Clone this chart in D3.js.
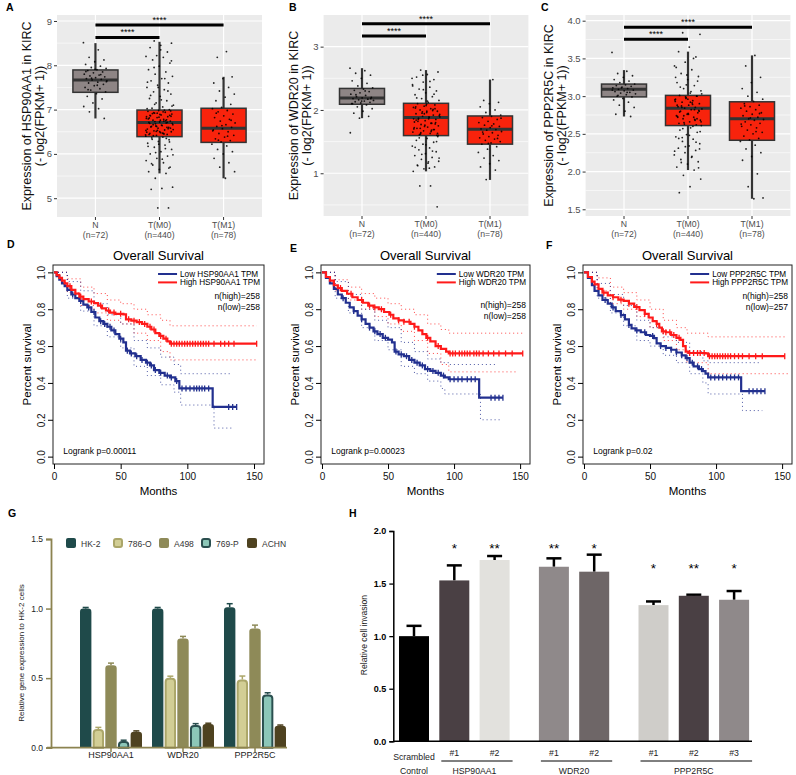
<!DOCTYPE html>
<html><head><meta charset="utf-8">
<script src="https://cdn.jsdelivr.net/npm/d3@7"></script>
<style>body{margin:0;background:#fff}svg{display:block;font-family:"Liberation Sans",Arial,sans-serif}</style>
</head><body><svg id="c" width="796" height="775"></svg>
<script>
// ================= DATA =================
// Panels A-C (box plots)
const boxGroups = ["N", "T(M0)", "T(M1)"];
const boxCounts = ["(n=72)", "(n=440)", "(n=78)"];
// [lower whisker, Q1, median, Q3, upper whisker]
const hspStats = [[6.80,7.39,7.67,7.895,8.50],[5.56,6.39,6.71,6.99,8.53],[5.45,6.26,6.58,7.03,7.74]];
const wdrStats = [[1.87,2.09,2.19,2.34,2.66],[1.03,1.595,1.88,2.105,2.63],[0.895,1.46,1.695,1.905,2.48]];
const pppStats = [[2.73,2.99,3.09,3.16,3.345],[2.02,2.61,2.84,3.01,3.59],[1.64,2.415,2.70,2.925,3.54]];
const hspPtsN = [8.51,8.35,8.18,8.12,8.08,8.02,7.98,7.95,7.93,7.9,7.88,7.85,7.83,7.8,7.78,7.76,7.74,7.72,7.7,7.68,7.67,7.65,7.62,7.6,7.57,7.54,7.5,7.47,7.44,7.4,7.36,7.3,7.24,7.15,7.07,7.02,6.95,6.8,7.91,7.86,7.79,7.71,7.63,7.55,7.45];
const hspPtsM0 = [8.55,8.5,8.45,8.4,8.3,8.22,8.2,8.18,8.12,8.05,7.98,7.9,7.85,7.8,7.75,7.7,7.65,7.6,7.55,7.5,7.45,7.4,7.35,7.3,7.25,7.2,7.15,7.1,7.06,7.03,
  7.0,6.98,6.96,6.94,6.92,6.9,6.88,6.86,6.84,6.82,6.8,6.78,6.76,6.74,6.72,6.71,6.7,6.68,6.66,6.64,6.62,6.6,6.58,6.56,6.54,6.52,6.5,6.48,6.46,6.44,6.42,6.4,
  6.95,6.91,6.87,6.83,6.79,6.75,6.73,6.69,6.65,6.61,6.57,6.53,6.49,6.45,6.41,6.97,6.89,6.81,6.77,6.63,6.55,6.47,
  6.36,6.32,6.28,6.24,6.2,6.15,6.1,6.05,6.0,5.95,5.9,5.85,5.8,5.75,5.7,5.65,5.6,5.56,5.45,5.25,5.22,5.2,4.78,4.78,
  7.02,6.99,6.93,6.85,6.76,6.69,6.6,6.51,6.43,6.38,6.33,6.27,6.22,6.17,6.12,7.12,7.08,7.22,7.32,7.42,6.92,6.84,6.74,6.66,6.58,6.5,6.44,6.35,6.03,5.98,5.88,5.78,5.68,7.5,7.62,7.7,7.95,8.1,8.35,6.87,6.71,6.62,6.53,6.46];
const hspPtsM1 = [8.31,8.18,7.74,7.7,7.6,7.5,7.42,7.35,7.28,7.2,7.12,7.05,7.02,6.98,6.95,6.9,6.86,6.82,6.78,6.74,6.7,6.66,6.62,6.6,6.57,6.54,6.5,6.46,6.42,6.38,6.34,6.3,6.27,6.22,6.18,6.1,6.05,6.0,5.9,5.8,5.7,5.6,5.45,6.92,6.76,6.64,6.52,6.4,6.31];
const wdrPtsN = [2.66,2.62,2.58,2.55,2.5,2.46,2.42,2.38,2.35,2.33,2.31,2.29,2.27,2.25,2.23,2.21,2.2,2.19,2.18,2.17,2.16,2.15,2.14,2.13,2.12,2.11,2.1,2.08,2.05,2.02,1.98,1.95,1.9,1.87,1.64,2.3,2.24,2.18,2.14,2.1];
const wdrPtsM0 = [2.63,2.6,2.56,2.52,2.48,2.44,2.4,2.36,2.33,2.3,2.27,2.24,2.21,2.18,2.15,2.12,
  2.1,2.08,2.06,2.04,2.02,2.0,1.98,1.96,1.94,1.92,1.9,1.89,1.88,1.87,1.85,1.83,1.81,1.79,1.77,1.75,1.73,1.71,1.69,1.67,1.65,1.63,1.61,1.6,
  2.07,2.03,1.99,1.95,1.91,1.86,1.82,1.78,1.74,1.7,1.66,1.62,
  1.58,1.55,1.52,1.49,1.46,1.43,1.4,1.37,1.34,1.31,1.28,1.25,1.22,1.19,1.16,1.13,1.1,1.07,1.03,0.8,0.8,0.47,
  2.09,2.05,2.01,1.97,1.93,1.89,1.85,1.8,1.76,1.72,1.68,1.64,1.6,2.14,2.19,2.25,2.32,2.38,2.45,1.56,1.5,1.45,1.41,1.35,1.3,1.24,1.18,1.12,2.02,1.94,1.86,1.79,1.71,1.63,1.98,1.84,1.69,2.55,2.5,1.08];
const wdrPtsM1 = [2.48,2.15,2.12,2.1,2.05,2.0,1.96,1.92,1.9,1.88,1.85,1.82,1.8,1.78,1.76,1.74,1.72,1.7,1.69,1.68,1.66,1.64,1.62,1.6,1.58,1.56,1.54,1.52,1.5,1.48,1.46,1.42,1.38,1.33,1.28,1.24,1.2,1.15,1.1,1.05,0.9,1.87,1.75,1.65,1.55,1.47];
const pppPtsN = [3.58,3.33,3.3,3.27,3.25,3.22,3.2,3.18,3.16,3.15,3.14,3.13,3.12,3.11,3.1,3.09,3.08,3.07,3.06,3.05,3.04,3.03,3.02,3.0,2.99,2.97,2.95,2.92,2.88,2.85,2.8,2.76,2.73,3.11,3.08,3.05,3.01];
const pppPtsM0 = [3.84,3.82,3.65,3.59,3.52,3.45,3.4,3.35,3.3,3.26,3.22,3.18,3.14,3.1,3.07,3.04,
  3.01,3.0,2.98,2.96,2.94,2.92,2.9,2.88,2.86,2.85,2.84,2.83,2.82,2.8,2.78,2.76,2.74,2.72,2.7,2.68,2.66,2.64,2.62,
  2.99,2.95,2.91,2.87,2.81,2.77,2.73,2.69,2.65,2.61,
  2.58,2.55,2.52,2.49,2.46,2.43,2.4,2.37,2.34,2.31,2.28,2.25,2.22,2.19,2.16,2.13,2.1,2.06,2.02,1.95,1.9,1.8,1.72,
  3.0,2.97,2.93,2.89,2.85,2.8,2.76,2.72,2.68,2.63,3.03,3.06,3.12,3.2,3.28,3.38,3.5,2.57,2.53,2.48,2.44,2.39,2.33,2.27,2.2,2.12,2.05,2.96,2.88,2.82,2.74,2.66,2.92,2.79,2.7,3.15,3.25,2.6,2.45,2.3];
const pppPtsM1 = [3.54,3.4,3.25,3.18,3.1,3.05,3.0,2.96,2.93,2.9,2.88,2.86,2.84,2.82,2.8,2.78,2.76,2.74,2.72,2.7,2.69,2.68,2.66,2.64,2.62,2.6,2.58,2.55,2.52,2.5,2.47,2.44,2.42,2.4,2.35,2.3,2.25,2.2,2.15,1.97,1.8,1.65,1.64,2.87,2.77,2.71,2.63,2.53];
// significance bar heights (N vs T(M0), N vs T(M1))
const hspSig = [8.63, 8.91];
const wdrSig = [3.169, 3.36];
const pppSig = [3.753, 3.912];
const hspTicks = [5,6,7,8,9];
const wdrTicks = [1,2,3];
const pppTicks = [1.5,2.0,2.5,3.0,3.5,4.0];

// Panels D-F (Kaplan-Meier) : [month, survival]
const kmTicksX = [0,50,100,150];
const kmTicksY = [0,0.2,0.4,0.6,0.8,1.0];
const hspHigh = [[0,1],[2,0.985],[4,0.97],[6,0.955],[8,0.94],[10,0.925],[13,0.905],[16,0.885],[19,0.868],[22,0.855],[26,0.842],[30,0.833],[33,0.82],[36,0.805],[39,0.793],[42,0.782],[46,0.775],[52,0.772],[54,0.745],[58,0.738],[62,0.73],[66,0.72],[70,0.705],[73,0.69],[76,0.67],[79,0.655],[82,0.64],[85,0.625],[87,0.613],[152,0.613]];
const hspLow = [[0,1],[2,0.98],[4,0.96],[6,0.94],[8,0.925],[10,0.905],[13,0.88],[16,0.86],[19,0.845],[22,0.825],[25,0.81],[28,0.785],[31,0.755],[34,0.735],[37,0.72],[40,0.705],[43,0.685],[46,0.665],[49,0.64],[52,0.62],[54,0.575],[57,0.56],[61,0.545],[65,0.525],[69,0.51],[72,0.495],[75,0.47],[79,0.455],[83,0.44],[87,0.43],[91,0.41],[94,0.37],[119,0.27],[137,0.27]];
const hspHighCens = [12,20,28,35,41,45,50,56,60,64,68,72,75,80,84,88,90,92,94,96,98,100,102,104,106,108,110,112,114,116,120,125,128,131,135,152];
const hspLowCens = [14,20,26,30,35,38,42,45,50,55,58,62,66,70,73,76,80,85,88,92,96,99,102,105,107,109,111,113,116,131,134,137];
const hspHighUp = [[0,1],[10,0.965],[20,0.92],[30,0.885],[40,0.85],[50,0.83],[60,0.8],[70,0.77],[80,0.74],[87,0.71],[152,0.71]];
const hspHighLo = [[0,1],[10,0.89],[20,0.82],[30,0.78],[40,0.74],[50,0.72],[60,0.67],[70,0.63],[80,0.57],[87,0.525],[152,0.525]];
const hspLowUp = [[0,1],[10,0.95],[20,0.9],[30,0.83],[40,0.77],[50,0.72],[60,0.63],[70,0.59],[80,0.54],[90,0.5],[95,0.45],[133,0.45]];
const hspLowLo = [[0,1],[10,0.86],[20,0.79],[30,0.71],[40,0.65],[50,0.59],[60,0.49],[70,0.44],[80,0.39],[90,0.35],[95,0.28],[119,0.28],[120,0.155],[133,0.155]];

const wdrHigh = [[0,1],[3,0.975],[6,0.955],[9,0.93],[12,0.915],[15,0.9],[19,0.884],[23,0.865],[27,0.85],[31,0.835],[35,0.82],[39,0.81],[43,0.8],[47,0.785],[51,0.77],[54,0.75],[58,0.74],[62,0.732],[67,0.72],[70,0.705],[73,0.685],[76,0.665],[79,0.645],[82,0.625],[86,0.6],[90,0.585],[94,0.57],[96,0.56],[152,0.56]];
const wdrLow = [[0,1],[3,0.97],[6,0.94],[9,0.91],[12,0.88],[15,0.86],[18,0.835],[21,0.81],[24,0.79],[27,0.765],[30,0.745],[33,0.72],[36,0.7],[39,0.68],[42,0.665],[46,0.645],[50,0.635],[53,0.62],[55,0.57],[58,0.555],[62,0.545],[66,0.525],[70,0.51],[74,0.495],[78,0.475],[82,0.465],[86,0.455],[90,0.44],[93,0.43],[96,0.42],[119,0.32],[137,0.32]];
const wdrHighCens = [14,22,30,36,40,45,52,58,62,66,70,80,88,97,99,101,104,106,108,110,112,115,117,119,122,126,130,134,139,144,152];
const wdrLowCens = [16,24,30,36,40,44,48,56,60,64,68,72,76,80,84,88,92,97,100,103,106,110,113,116,128,131,134,137];
const wdrHighUp = [[0,1],[10,0.96],[20,0.92],[30,0.885],[40,0.86],[50,0.83],[60,0.8],[70,0.77],[80,0.72],[90,0.69],[96,0.67],[152,0.67]];
const wdrHighLo = [[0,1],[10,0.9],[20,0.85],[30,0.8],[40,0.76],[50,0.72],[60,0.68],[70,0.63],[80,0.56],[90,0.5],[96,0.46],[148,0.46]];
const wdrLowUp = [[0,1],[10,0.95],[20,0.88],[30,0.8],[40,0.74],[50,0.7],[60,0.62],[70,0.57],[80,0.53],[90,0.51],[96,0.5],[133,0.5]];
const wdrLowLo = [[0,1],[10,0.86],[20,0.78],[30,0.7],[40,0.63],[50,0.58],[60,0.49],[70,0.45],[80,0.41],[90,0.37],[93,0.34],[119,0.34],[120,0.2],[135,0.2]];

const pppHigh = [[0,1],[3,0.975],[6,0.95],[8,0.935],[11,0.91],[14,0.89],[18,0.875],[22,0.865],[26,0.852],[30,0.845],[34,0.83],[38,0.812],[42,0.795],[46,0.775],[49,0.755],[52,0.735],[55,0.72],[57,0.7],[59,0.68],[62,0.675],[66,0.66],[70,0.645],[73,0.634],[75,0.6],[77,0.57],[79,0.5625],[92,0.56],[94,0.545],[152,0.545]];
const pppLow = [[0,1],[3,0.97],[6,0.93],[8,0.9],[11,0.875],[14,0.85],[18,0.83],[21,0.81],[24,0.79],[28,0.768],[31,0.745],[34,0.715],[36,0.696],[39,0.685],[43,0.675],[47,0.66],[50,0.655],[53,0.643],[55,0.615],[58,0.6],[62,0.59],[66,0.58],[70,0.565],[74,0.55],[77,0.535],[80,0.51],[83,0.49],[87,0.475],[90,0.464],[92,0.45],[94,0.43],[119,0.355],[137,0.355]];
const pppHighCens = [15,22,28,34,40,46,55,60,62,65,68,72,80,83,86,88,91,95,97,99,101,103,105,107,109,111,114,117,120,125,130,135,152];
const pppLowCens = [16,22,28,34,40,46,52,58,62,66,70,74,78,82,86,89,96,99,102,105,108,111,114,117,125,128,131,134,137];
const pppHighUp = [[0,1],[10,0.97],[20,0.92],[30,0.89],[40,0.85],[50,0.8],[60,0.74],[70,0.7],[78,0.67],[94,0.65],[152,0.65]];
const pppHighLo = [[0,1],[10,0.9],[20,0.83],[30,0.8],[40,0.76],[50,0.7],[60,0.63],[70,0.58],[78,0.51],[94,0.45],[155,0.45]];
const pppLowUp = [[0,1],[10,0.94],[20,0.88],[30,0.82],[40,0.74],[50,0.7],[60,0.65],[70,0.62],[80,0.57],[90,0.52],[94,0.51],[133,0.51]];
const pppLowLo = [[0,1],[10,0.86],[20,0.78],[30,0.71],[40,0.63],[50,0.6],[60,0.55],[70,0.51],[80,0.45],[90,0.4],[94,0.34],[119,0.34],[120,0.25],[135,0.25]];

// Panel G
const cellLines = ["HK-2","786-O","A498","769-P","ACHN"];
const genesG = ["HSP90AA1","WDR20","PPP2R5C"];
const exprHSP = [1.0,0.134,0.593,0.048,0.115];
const exprWDR = [1.0,0.502,0.785,0.163,0.17];
const exprPPP = [1.01,0.49,0.856,0.383,0.158];
const errHSP = [0.008,0.012,0.015,0.006,0.006];
const errWDR = [0.008,0.012,0.015,0.01,0.006];
const errPPP = [0.025,0.025,0.025,0.012,0.005];
const gTicks = [0,0.5,1.0,1.5];

// Panel H
const invBars = ["#1","#1","#2","#1","#2","#1","#2","#3"];
const invGroups = ["Control","HSP90AA1","HSP90AA1","WDR20","WDR20","PPP2R5C","PPP2R5C","PPP2R5C"];
const invValues = [1.0,1.53,1.724,1.66,1.613,1.295,1.384,1.346];
const invErr = [0.098,0.143,0.038,0.08,0.162,0.035,0.01,0.083];
const invStars = ["","*","**","**","*","*","**","*"];
const hTicks = [0,0.5,1.0,1.5,2.0];

// ================= DRAWING =================
const svg = d3.select("#c");
const FONT = "'Liberation Sans',Arial,sans-serif";

function letter(t,x,y){svg.append("text").attr("x",x).attr("y",y).text(t)
  .attr("font-size",10.5).attr("font-weight",900).attr("font-family",FONT);}

function boxPanel(o){
  const g = svg.append("g");
  const x = d3.scaleBand().domain(boxGroups).range([o.L,o.R]).paddingInner(0).paddingOuter(0.1);
  const cx = d => x(d)+x.bandwidth()/2;
  const y = d3.scaleLinear().domain(o.dom).range([o.B,o.T]);
  g.append("rect").attr("x",o.L).attr("y",o.T).attr("width",o.R-o.L).attr("height",o.B-o.T).attr("fill","#EBEBEB");
  const tk = o.ticks, step = tk[1]-tk[0];
  const minors = [];
  for(let i=-1;i<tk.length;i++){ const v = (i<0?tk[0]-step/2:tk[i]+step/2); if(v>o.dom[0]&&v<o.dom[1]) minors.push(v); }
  g.selectAll(".mn").data(minors).join("line").attr("x1",o.L).attr("x2",o.R).attr("y1",d=>y(d)).attr("y2",d=>y(d)).attr("stroke","#fff").attr("stroke-width",0.6);
  g.selectAll(".mj").data(tk).join("line").attr("x1",o.L).attr("x2",o.R).attr("y1",d=>y(d)).attr("y2",d=>y(d)).attr("stroke","#fff").attr("stroke-width",1.2);
  g.selectAll(".vj").data(boxGroups).join("line").attr("x1",cx).attr("x2",cx).attr("y1",o.T).attr("y2",o.B).attr("stroke","#fff").attr("stroke-width",1.2);
  const ay = g.append("g").attr("transform",`translate(${o.L},0)`).call(d3.axisLeft(y).tickValues(tk).tickFormat(o.fmt).tickSize(3).tickPadding(2));
  ay.select(".domain").remove(); ay.selectAll("line").attr("stroke","#333");
  ay.attr("font-size",9.5).attr("font-family",FONT); ay.selectAll("text").attr("fill","#4D4D4D");
  const ax = g.append("g").attr("transform",`translate(0,${o.B})`).call(d3.axisBottom(x).tickSize(3).tickFormat(""));
  ax.select(".domain").remove(); ax.selectAll("line").attr("stroke","#333");
  boxGroups.forEach((d,i)=>{
    const t = g.append("text").attr("x",cx(d)).attr("text-anchor","middle").attr("font-size",8.7).attr("fill","#4D4D4D");
    t.append("tspan").attr("x",cx(d)).attr("y",o.B+11).text(d);
    t.append("tspan").attr("x",cx(d)).attr("y",o.B+20.5).text(boxCounts[i]);
  });
  const cy = (o.T+o.B)/2;
  [[o.title,o.tOff[0]],["(- log2(FPKM+ 1))",o.tOff[1]]].forEach(([s,off])=>{
    g.append("text").attr("transform",`translate(${o.L+off},${cy}) rotate(-90)`).attr("text-anchor","middle")
      .attr("font-size",12.5).attr("fill","#111").text(s);
  });
  const fills = ["#8E8585","#F8230C","#F8230C"];
  const bw = x.bandwidth()*0.75/1.0*0.9375;
  boxGroups.forEach((d,i)=>{
    const s = o.stats[i], c = cx(d);
    g.append("line").attr("x1",c).attr("x2",c).attr("y1",y(s[0])).attr("y2",y(s[4])).attr("stroke","#333").attr("stroke-width",2.2);
    g.append("rect").attr("x",c-bw/2).attr("width",bw).attr("y",y(s[3])).attr("height",y(s[1])-y(s[3]))
      .attr("fill",fills[i]).attr("stroke","#333").attr("stroke-width",1.5);
    g.append("line").attr("x1",c-bw/2).attr("x2",c+bw/2).attr("y1",y(s[2])).attr("y2",y(s[2])).attr("stroke","#333").attr("stroke-width",3);
    const pts = o.pts[i];
    g.selectAll(null).data(pts).join("circle")
      .attr("cx",(v,j)=>c+(((j*0.6180339887+i*0.31)%1)-0.5)*2*(i===1?14:12))
      .attr("cy",v=>y(v)).attr("r",0.9).attr("fill","#000").attr("opacity",0.85);
  });
  [[boxGroups[1],o.sig[0]],[boxGroups[2],o.sig[1]]].forEach(([tg,v])=>{
    g.append("line").attr("x1",cx(boxGroups[0])).attr("x2",cx(tg)).attr("y1",y(v)).attr("y2",y(v)).attr("stroke","#000").attr("stroke-width",3);
    g.append("text").attr("x",(cx(boxGroups[0])+cx(tg))/2).attr("y",y(v)-2).attr("text-anchor","middle").attr("font-size",9).text("****");
  });
}

boxPanel({L:57,R:262,T:15,B:217,dom:[4.576,9.135],ticks:hspTicks,fmt:d3.format("d"),stats:hspStats,pts:[hspPtsN,hspPtsM0,hspPtsM1],sig:hspSig,title:"Expression of HSP90AA1 in KIRC",tOff:[-26,-13]});
boxPanel({L:323.6,R:528.4,T:15,B:216,dom:[0.325,3.5],ticks:wdrTicks,fmt:d3.format("d"),stats:wdrStats,pts:[wdrPtsN,wdrPtsM0,wdrPtsM1],sig:wdrSig,title:"Expression of WDR20 in KIRC",tOff:[-26,-13]});
boxPanel({L:585.6,R:790.4,T:15,B:216,dom:[1.411,4.0756],ticks:pppTicks,fmt:d3.format(".1f"),stats:pppStats,pts:[pppPtsN,pppPtsM0,pppPtsM1],sig:pppSig,title:"Expression of PPP2R5C in KIRC",tOff:[-33,-20]});
letter("A",6,11); letter("B",289,11); letter("C",541,11);

// ----- Kaplan-Meier -----
function kmPanel(o){
  const g = svg.append("g");
  const T=265,B=464;
  const x = d3.scaleLinear().domain([-0.75,157.5]).range([o.L,o.R]);
  const y = d3.scaleLinear().domain([-0.04,1.04]).range([B,T]);
  const blue="#22308F", red="#FF1A1A";
  const line = d3.line().x(d=>x(d[0])).y(d=>y(d[1])).curve(d3.curveStepAfter);
  [[o.hiUp,red],[o.hiLo,red],[o.loUp,blue],[o.loLo,blue]].forEach(([d,c])=>{
    g.append("path").attr("d",line(d)).attr("fill","none").attr("stroke",c).attr("stroke-width",1).attr("stroke-dasharray","1,3").attr("opacity",0.8);
  });
  const stepAt = (arr,t)=>{let v=arr[0][1]; for(const p of arr){ if(p[0]<=t) v=p[1]; } return v;};
  [[o.low,o.lowC,blue],[o.high,o.highC,red]].forEach(([d,cs,c])=>{
    g.append("path").attr("d",line(d)).attr("fill","none").attr("stroke",c).attr("stroke-width",2.2);
    g.selectAll(null).data(cs).join("line").attr("x1",t=>x(t)).attr("x2",t=>x(t))
      .attr("y1",t=>y(stepAt(d,t))-3).attr("y2",t=>y(stepAt(d,t))+3).attr("stroke",c).attr("stroke-width",1.3);
  });
  g.append("rect").attr("x",o.L).attr("y",T).attr("width",o.R-o.L).attr("height",B-T).attr("fill","none").attr("stroke","#222").attr("stroke-width",1);
  const ax = g.append("g").attr("transform",`translate(0,${B})`).call(d3.axisBottom(x).tickValues(kmTicksX).tickSize(5).tickPadding(4));
  ax.select(".domain").remove(); ax.attr("font-size",10).attr("font-family",FONT); ax.selectAll("text").attr("fill","#111");
  const ay = g.append("g").attr("transform",`translate(${o.L},0)`).call(d3.axisLeft(y).tickValues(kmTicksY).tickFormat(d3.format(".1f")).tickSize(5));
  ay.select(".domain").remove(); ay.attr("font-size",10).attr("font-family",FONT);
  ay.selectAll("text").attr("x",0).attr("y",-8).attr("dy",0).attr("transform","rotate(-90)").attr("text-anchor","middle").attr("fill","#111");
  g.append("text").attr("x",(o.L+o.R)/2).attr("y",260).attr("text-anchor","middle").attr("font-size",13).text("Overall Survival");
  g.append("text").attr("x",(o.L+o.R)/2).attr("y",495).attr("text-anchor","middle").attr("font-size",11.5).text("Months");
  g.append("text").attr("transform",`translate(${o.L-22},${(T+B)/2}) rotate(-90)`).attr("text-anchor","middle").attr("font-size",11.5).text("Percent survival");
  // legend
  const fs = 8.2;
  const items = [["Low "+o.gene+" TPM",blue],["High "+o.gene+" TPM",red]];
  const tmp = items.map(([s])=>{const t=g.append("text").attr("font-size",fs).text(s); const w=t.node().getComputedTextLength(); t.remove(); return w;});
  const tx = o.R-4-d3.max(tmp);
  items.forEach(([s,c],i)=>{
    const yy = T+9+i*8.4;
    g.append("line").attr("x1",tx-22).attr("x2",tx-3).attr("y1",yy).attr("y2",yy).attr("stroke",c).attr("stroke-width",2);
    g.append("text").attr("x",tx).attr("y",yy+2.9).attr("font-size",fs).text(s);
  });
  g.append("text").attr("x",o.R-4).attr("y",o.nY).attr("text-anchor","end").attr("font-size",8.5).text("n(high)="+o.nHigh);
  g.append("text").attr("x",o.R-4).attr("y",o.nY+11).attr("text-anchor","end").attr("font-size",8.5).text("n(low)="+o.nLow);
  g.append("text").attr("x",x(7)).attr("y",454).attr("font-size",8.5).text("Logrank p="+o.p);
}
kmPanel({L:53,R:264,gene:"HSP90AA1",high:hspHigh,low:hspLow,highC:hspHighCens,lowC:hspLowCens,hiUp:hspHighUp,hiLo:hspHighLo,loUp:hspLowUp,loLo:hspLowLo,nHigh:258,nLow:258,p:"0.00011",nY:299});
kmPanel({L:321,R:530,gene:"WDR20",high:wdrHigh,low:wdrLow,highC:wdrHighCens,lowC:wdrLowCens,hiUp:wdrHighUp,hiLo:wdrHighLo,loUp:wdrLowUp,loLo:wdrLowLo,nHigh:258,nLow:258,p:"0.00023",nY:308});
kmPanel({L:583,R:792,gene:"PPP2R5C",high:pppHigh,low:pppLow,highC:pppHighCens,lowC:pppLowCens,hiUp:pppHighUp,hiLo:pppHighLo,loUp:pppLowUp,loLo:pppLowLo,nHigh:258,nLow:257,p:"0.02",nY:299});
letter("D",7,248); letter("E",290,252); letter("F",546,249);

// ----- Panel G -----
(function(){
  const g = svg.append("g");
  const axisC = "#8C8350";
  const y = d3.scaleLinear().domain([0,1.5]).range([747.7,539]);
  const x0 = d3.scaleBand().domain(genesG).range([75,291]).padding(0);
  const x1 = d3.scaleBand().domain(cellLines).range([-31,31]).paddingInner(0.1);
  const fills = ["#1F4A4A","#D2CE95","#8E8A58","#8CC7B8","#4E4220"];
  const strokes = ["#1F4A4A","#ABA669","#8E8A58","#2A4F4F","#4E4220"];
  const vals = [exprHSP,exprWDR,exprPPP], errs=[errHSP,errWDR,errPPP];
  const rt = (x,yy,w,h,r)=>`M${x},${yy+h}V${yy+r}Q${x},${yy} ${x+r},${yy}H${x+w-r}Q${x+w},${yy} ${x+w},${yy+r}V${yy+h}Z`;
  genesG.forEach((gn,gi)=>{
    const c = x0(gn)+x0.bandwidth()/2;
    cellLines.forEach((cl,ci)=>{
      const v = vals[gi][ci], e = errs[gi][ci];
      const bx = c+x1(cl), w = x1.bandwidth();
      const xm = bx+w/2;
      g.append("line").attr("x1",xm).attr("x2",xm).attr("y1",y(v)).attr("y2",y(v+e)).attr("stroke",strokes[ci]).attr("stroke-width",1.5);
      g.append("line").attr("x1",xm-3).attr("x2",xm+3).attr("y1",y(v+e)).attr("y2",y(v+e)).attr("stroke",strokes[ci]).attr("stroke-width",1.5);
      const sw = (ci===1||ci===3)?2:0;
      g.append("path").attr("d",rt(bx+sw/2,y(v)+sw/2,w-sw,y(0)-y(v)-sw/2,3.2)).attr("fill",fills[ci])
        .attr("stroke",sw?strokes[ci]:"none").attr("stroke-width",sw);
    });
    g.append("line").attr("x1",c).attr("x2",c).attr("y1",747.7).attr("y2",752).attr("stroke",axisC).attr("stroke-width",1.5);
    g.append("text").attr("x",c).attr("y",757.5).attr("text-anchor","middle").attr("font-size",9).attr("fill","#222").text(gn);
  });
  g.append("line").attr("x1",47).attr("x2",287).attr("y1",747.7).attr("y2",747.7).attr("stroke",axisC).attr("stroke-width",1.8);
  const ay = g.append("g").attr("transform","translate(51,0)").call(d3.axisLeft(y).tickValues(gTicks).tickFormat(d3.format(".1f")).tickSize(5).tickPadding(3));
  ay.select(".domain").attr("stroke",axisC).attr("stroke-width",1.8); ay.selectAll("line").attr("stroke",axisC).attr("stroke-width",1.5);
  ay.attr("font-size",8.5).attr("font-family",FONT); ay.selectAll("text").attr("fill","#222");
  g.append("text").attr("transform","translate(24,653) rotate(-90)").attr("text-anchor","middle").attr("font-size",8).attr("fill","#222").text("Relative gene expression to HK-2 cells");
  const lx = [66,113,159,201,247];
  cellLines.forEach((cl,ci)=>{
    const sw = (ci===1||ci===3)?2:0;
    g.append("rect").attr("x",lx[ci]+sw/2).attr("y",538+sw/2).attr("width",10-sw).attr("height",10-sw).attr("rx",2)
      .attr("fill",fills[ci]).attr("stroke",sw?strokes[ci]:"none").attr("stroke-width",sw);
    g.append("text").attr("x",lx[ci]+15).attr("y",546.5).attr("font-size",8.5).attr("fill","#333").text(cl);
  });
})();
letter("G",8,517);

// ----- Panel H -----
(function(){
  const g = svg.append("g");
  const y = d3.scaleLinear().domain([0,2]).range([741.3,531]);
  const geneOrder = ["Control","HSP90AA1","WDR20","PPP2R5C"];
  const xc = i => 414 + i*40.3 + Math.max(0, geneOrder.indexOf(invGroups[i])-1)*19;
  const fills = ["#000000","#4A4044","#E2E1DD","#8F898A","#6E6667","#CFCDC9","#4A4044","#8F898A"];
  const bw = 30;
  invValues.forEach((v,i)=>{
    const c = xc(i), e = invErr[i];
    g.append("line").attr("x1",c).attr("x2",c).attr("y1",y(v)).attr("y2",y(v+e)).attr("stroke","#000").attr("stroke-width",2.5);
    g.append("line").attr("x1",c-7.5).attr("x2",c+7.5).attr("y1",y(v+e)).attr("y2",y(v+e)).attr("stroke","#000").attr("stroke-width",2.5);
    g.append("rect").attr("x",c-bw/2).attr("width",bw).attr("y",y(v)).attr("height",y(0)-y(v)).attr("fill",fills[i]);
    if(invStars[i]){
      const lvl = invGroups[i]==="PPP2R5C"?1.67:1.86;
      g.append("text").attr("x",c).attr("y",y(lvl)+7).attr("text-anchor","middle").attr("font-size",13.5).text(invStars[i]);
    }
    if(i>0) g.append("text").attr("x",c).attr("y",756).attr("text-anchor","middle").attr("font-size",8.7).attr("fill","#222").text(invBars[i]);
  });
  g.append("text").attr("x",xc(0)).attr("y",760).attr("text-anchor","middle").attr("font-size",8.7).attr("fill","#222").text("Scrambled");
  g.append("text").attr("x",xc(0)).attr("y",774).attr("text-anchor","middle").attr("font-size",8.7).attr("fill","#222").text("Control");
  geneOrder.slice(1).forEach(gn=>{
    const idx = invGroups.map((d,i)=>d===gn?i:-1).filter(i=>i>=0);
    const a = xc(idx[0])-13, b = xc(idx[idx.length-1])+18;
    g.append("line").attr("x1",a).attr("x2",b).attr("y1",761).attr("y2",761).attr("stroke","#000").attr("stroke-width",1);
    g.append("text").attr("x",(xc(idx[0])+xc(idx[idx.length-1]))/2).attr("y",774).attr("text-anchor","middle").attr("font-size",8.7).attr("fill","#222").text(gn);
  });
  g.append("line").attr("x1",393.3).attr("x2",752).attr("y1",741.3).attr("y2",741.3).attr("stroke","#000").attr("stroke-width",1.5);
  const ay = g.append("g").attr("transform","translate(393.3,0)").call(d3.axisLeft(y).tickValues(hTicks).tickFormat(d3.format(".1f")).tickSize(4).tickPadding(3));
  ay.select(".domain").attr("stroke","#000").attr("stroke-width",1.5); ay.selectAll("line").attr("stroke","#000").attr("stroke-width",1.3);
  ay.attr("font-size",9).attr("font-family",FONT).attr("font-weight","bold");
  g.append("text").attr("transform","translate(367,635) rotate(-90)").attr("text-anchor","middle").attr("font-size",8.6).attr("fill","#222").text("Relative cell invasion");
})();
letter("H",349,517);
</script></body></html>
